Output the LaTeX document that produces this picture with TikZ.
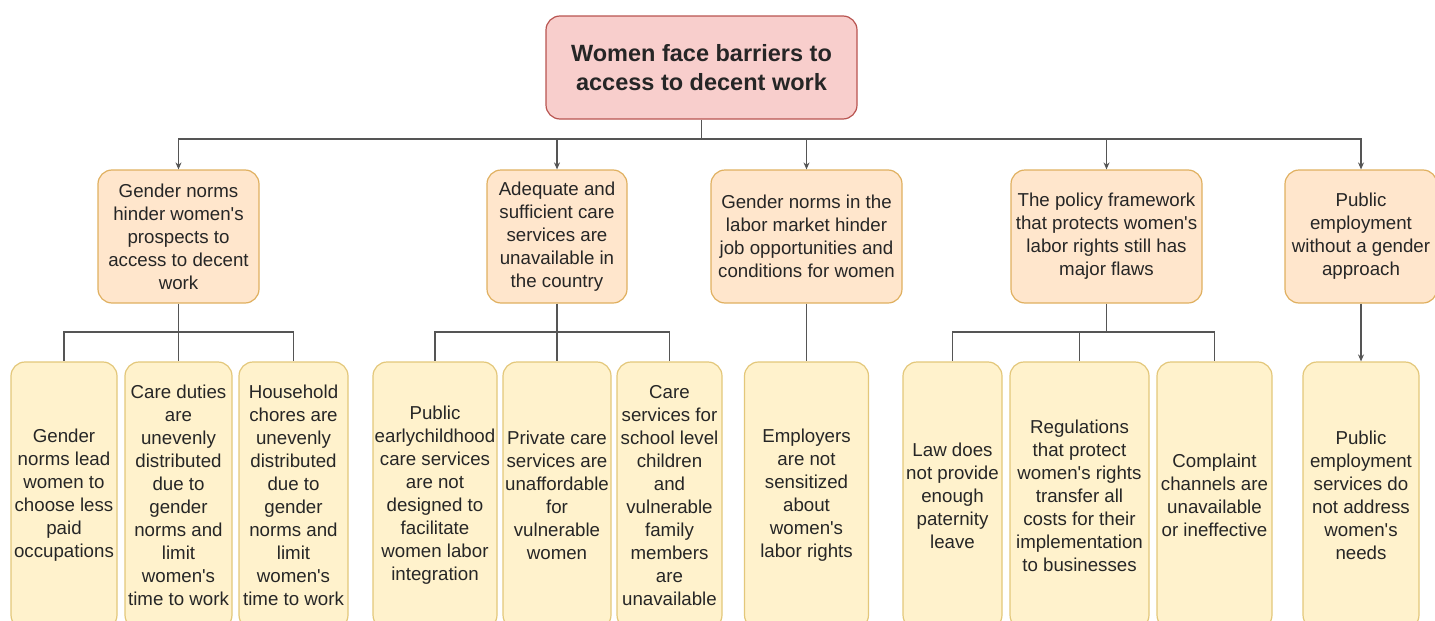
\documentclass[tikz,border=0pt]{standalone}
\usepackage{fontspec}
\setmainfont{Liberation Sans}[Ligatures=TeXOff]
\usepackage{tikz}
\usetikzlibrary{arrows.meta}
\definecolor{rootfill}{HTML}{F8CECC}
\definecolor{rootline}{HTML}{B85450}
\definecolor{causefill}{HTML}{FFE6CC}
\definecolor{causeline}{HTML}{E0B060}
\definecolor{leaffill}{HTML}{FFF2CC}
\definecolor{leafline}{HTML}{E3C77A}
\definecolor{wire}{HTML}{555555}

\begin{document}
\begin{tikzpicture}[x=1pt, y=-1pt,
		box/.style={rounded corners=14pt, line width=1.2pt, align=center, inner sep=1pt,
			font=\fontsize{18.7}{23}\selectfont, text=black!85},
		root/.style={box, fill=rootfill, draw=rootline, minimum height=103pt,
			font=\bfseries\fontsize{23.5}{29}\selectfont},
		cause/.style={box, fill=causefill, draw=causeline, minimum height=133pt},
		leaf/.style={box, fill=leaffill, draw=leafline, minimum height=267pt},
		elbow/.style={to path={-| (\tikztotarget)}}]
		\useasboundingbox (0,0) rectangle (1435,621);

		\node[root, minimum width=311pt] (top) at (701.5,67.5) {Women face barriers to\\access to decent work};

		\node[cause, minimum width=161pt] (c1) at (178.5,236.5) {Gender norms\\hinder women's\\prospects to\\access to decent\\work};
		\node[cause, minimum width=140pt] (c2) at (557,236.5) {Adequate and\\sufficient care\\services are\\unavailable in\\the country};
		\node[cause, minimum width=191pt] (c3) at (806.5,236.5) {Gender norms in the\\labor market hinder\\job opportunities and\\conditions for women};
		\node[cause, minimum width=191pt] (c4) at (1106.5,236.5) {The policy framework\\that protects women's\\labor rights still has\\major flaws};
		\node[cause, minimum width=152pt] (c5) at (1361,236.5) {Public\\employment\\without a gender\\approach};

		\node[leaf, minimum width=106pt] (c1-1) at (64,495.5) {Gender\\norms lead\\women to\\choose less\\paid\\occupations};
		\node[leaf, minimum width=107pt] (c1-2) at (178.5,495.5) {Care duties\\are\\unevenly\\distributed\\due to\\gender\\norms and\\limit\\women's\\time to work};
		\node[leaf, minimum width=109pt] (c1-3) at (293.5,495.5) {Household\\chores are\\unevenly\\distributed\\due to\\gender\\norms and\\limit\\women's\\time to work};
		\node[leaf, minimum width=124pt] (c2-1) at (435,495.5) {Public\\earlychildhood\\care services\\are not\\designed to\\facilitate\\women labor\\integration};
		\node[leaf, minimum width=108pt] (c2-2) at (557,495.5) {Private care\\services are\\unaffordable\\for\\vulnerable\\women};
		\node[leaf, minimum width=105pt] (c2-3) at (669.5,495.5) {Care\\services for\\school level\\children\\and\\vulnerable\\family\\members\\are\\unavailable};
		\node[leaf, minimum width=124pt] (c3-1) at (806.5,495.5) {Employers\\are not\\sensitized\\about\\women's\\labor rights};
		\node[leaf, minimum width=99pt] (c4-1) at (952.5,495.5) {Law does\\not provide\\enough\\paternity\\leave};
		\node[leaf, minimum width=139pt] (c4-2) at (1079.5,495.5) {Regulations\\that protect\\women's rights\\transfer all\\costs for their\\implementation\\to businesses};
		\node[leaf, minimum width=115pt] (c4-3) at (1214.5,495.5) {Complaint\\channels are\\unavailable\\or ineffective};
		\node[leaf, minimum width=116pt] (c5-1) at (1361,495.5) {Public\\employment\\services do\\not address\\women's\\needs};

		\coordinate (bus) at (701.5,139);
		\coordinate (bus1) at (178.5,332);
		\coordinate (bus2) at (557,332);
		\coordinate (bus4) at (1106.5,332);

		\path[color=wire, line width=1.1pt, -{Stealth[length=7pt, width=6pt]}]
		(top) edge[-] (bus)
		(bus) edge[elbow] (c1)
		edge[elbow] (c2)
		edge[elbow] (c3)
		edge[elbow] (c4)
		edge[elbow] (c5)
		(c5) edge (c5-1);

		\path[color=wire, line width=1.1pt]
		(c1) edge (bus1)
		(bus1) edge[elbow] (c1-1)
		edge (c1-2)
		edge[elbow] (c1-3)
		(c2) edge (bus2)
		(bus2) edge[elbow] (c2-1)
		edge (c2-2)
		edge[elbow] (c2-3)
		(c3) edge (c3-1)
		(c4) edge (bus4)
		(bus4) edge[elbow] (c4-1)
		edge[elbow] (c4-2)
		edge[elbow] (c4-3);
\end{tikzpicture}
\end{document}
